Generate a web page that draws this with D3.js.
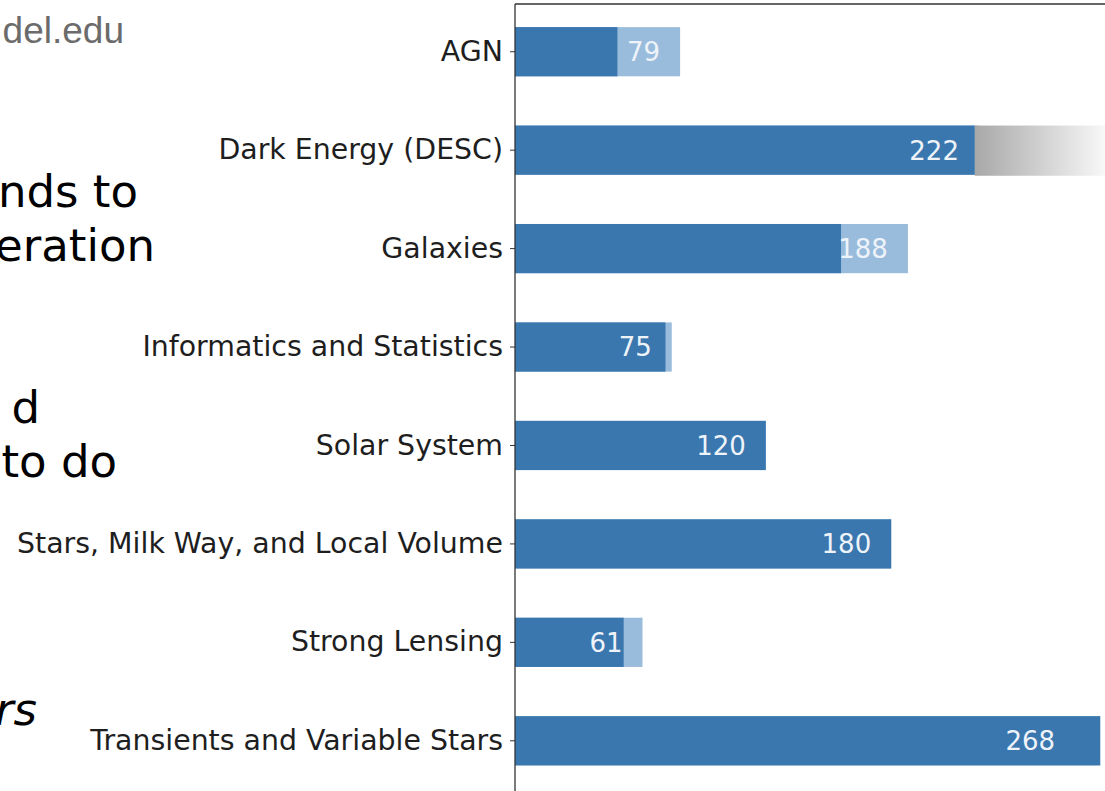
<!DOCTYPE html>
<html>
<head>
<meta charset="utf-8">
<script src="https://cdn.jsdelivr.net/npm/d3@7"></script>
<style>
  html, body { margin: 0; padding: 0; background: #fff; }
  svg { display: block; }
</style>
</head>
<body>
<svg id="chart" width="1105" height="791"></svg>
<script>
// ---- data ----
const categories = [
  "AGN",
  "Dark Energy (DESC)",
  "Galaxies",
  "Informatics and Statistics",
  "Solar System",
  "Stars, Milk Way, and Local Volume",
  "Strong Lensing",
  "Transients and Variable Stars"
];
const primaryValues = [49, 220, 156, 72, 120, 180, 52, 280];
const totalValues   = [79, 222, 188, 75, 120, 180, 61, 280];
const labelValues   = [79, 222, 188, 75, 120, 180, 61, 268];

// slide text fragments (cut off at left edge of the screenshot)
const slideLines = [
  { text: "del.edu", x: 124, y: 43, cls: "url" },
  { text: "nds to", x: 138, y: 207, cls: "big" },
  { text: "eration", x: 155, y: 261, cls: "big" },
  { text: "d", x: 40, y: 423, cls: "big" },
  { text: "to do", x: 117, y: 477, cls: "big" },
  { text: "rs", x: 37, y: 725, cls: "bigi" }
];

const svg = d3.select("#chart");
const W = 1105, H = 791;
const x0 = 515;

const x = d3.scaleLinear().domain([0, 590 / 2.09]).range([x0, W]);
const y = d3.scaleBand().domain(categories).range([2.5, 790]).paddingInner(0.5).paddingOuter(0.25);

// slide text
svg.append("g").selectAll("text").data(slideLines).enter().append("text")
  .attr("x", d => d.x).attr("y", d => d.y)
  .attr("text-anchor", "end")
  .attr("font-family", d => d.cls === "url" ? "'Liberation Sans', Arial, sans-serif" : "'DejaVu Sans', sans-serif")
  .attr("font-size", d => d.cls === "url" ? 37 : 45)
  .attr("font-style", d => d.cls === "bigi" ? "italic" : "normal")
  .attr("fill", d => d.cls === "url" ? "#6b6b6b" : "#000")
  .text(d => d.text);

// light (total) bars
const idx = d3.range(categories.length);
svg.append("g").selectAll("rect").data(idx).enter().append("rect")
  .attr("x", x(0)).attr("y", i => y(categories[i]))
  .attr("width", i => x(totalValues[i]) - x(0))
  .attr("height", y.bandwidth())
  .attr("fill", "#9abcdc");

// dark (primary) bars
svg.append("g").selectAll("rect").data(idx).enter().append("rect")
  .attr("x", x(0)).attr("y", i => y(categories[i]))
  .attr("width", i => x(primaryValues[i]) - x(0))
  .attr("height", y.bandwidth())
  .attr("fill", "#3a77ae");

// grey gradient overlay on the slide (covers the Dark Energy bar end)
const defs = svg.append("defs");
const grad = defs.append("linearGradient").attr("id", "fade").attr("x1", "0").attr("x2", "1").attr("y1", "0").attr("y2", "0");
grad.append("stop").attr("offset", "0").attr("stop-color", "#a8a8a8");
grad.append("stop").attr("offset", "1").attr("stop-color", "#f8f8f8");
svg.append("rect")
  .attr("x", x(primaryValues[1]))
  .attr("y", y(categories[1]))
  .attr("width", W - x(primaryValues[1]))
  .attr("height", y.bandwidth() + 1)
  .attr("fill", "url(#fade)");

// value labels
svg.append("g").selectAll("text").data(idx).enter().append("text")
  .attr("x", i => x(labelValues[i]) - 20)
  .attr("y", i => y(categories[i]) + y.bandwidth() / 2)
  .attr("dy", "0.36em")
  .attr("text-anchor", "end")
  .attr("font-family", "'DejaVu Sans', sans-serif")
  .attr("font-size", 26)
  .attr("fill", "#eef3fa")
  .text(i => labelValues[i]);

// y axis
const yAxis = d3.axisLeft(y).tickSize(5).tickPadding(7);
const gy = svg.append("g").attr("transform", `translate(${x0},0)`).call(yAxis);
gy.select(".domain").remove();
gy.selectAll("line").attr("stroke", "#333");
gy.selectAll("text")
  .attr("font-family", "'DejaVu Sans', sans-serif")
  .attr("font-size", 28.4)
  .attr("fill", "#1e1e1e");

// spines
svg.append("line").attr("x1", x0).attr("x2", x0).attr("y1", 4).attr("y2", H)
  .attr("stroke", "#333").attr("stroke-width", 1.3);
svg.append("line").attr("x1", x0).attr("x2", W).attr("y1", 4).attr("y2", 4)
  .attr("stroke", "#333").attr("stroke-width", 1.3);
</script>
</body>
</html>
